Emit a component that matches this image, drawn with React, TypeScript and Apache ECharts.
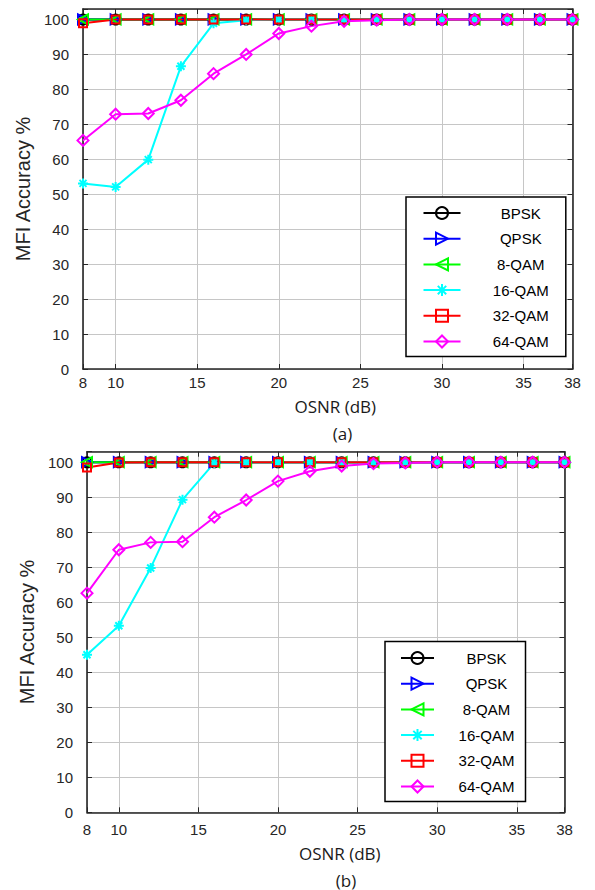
import React, { useEffect, useRef } from 'react';
import * as echarts from 'echarts';

// OSNR sweep (dB) shared by both panels
const osnr = [8, 10, 12, 14, 16, 18, 20, 22, 24, 26, 28, 30, 32, 34, 36, 38];
// 1 dB slots spanning the horizontal axis
const osnrSlots = [
  '8', '9', '10', '11', '12', '13', '14', '15', '16', '17', '18', '19', '20', '21', '22', '23',
  '24', '25', '26', '27', '28', '29', '30', '31', '32', '33', '34', '35', '36', '37', '38',
];
const xTicks = [8, 10, 15, 20, 25, 30, 35, 38];
const yTicks = [0, 10, 20, 30, 40, 50, 60, 70, 80, 90, 100];
const modulations = ['BPSK', 'QPSK', '8-QAM', '16-QAM', '32-QAM', '64-QAM'];

// Panel (a) accuracy, %
const bpskA = [100, 100, 100, 100, 100, 100, 100, 100, 100, 100, 100, 100, 100, 100, 100, 100];
const qpskA = [100, 100, 100, 100, 100, 100, 100, 100, 100, 100, 100, 100, 100, 100, 100, 100];
const qam8A = [100, 100, 100, 100, 100, 100, 100, 100, 100, 100, 100, 100, 100, 100, 100, 100];
const qam16A = [53.1, 52.1, 59.9, 86.6, 98.9, 99.8, 100, 100, 100, 100, 100, 100, 100, 100, 100, 100];
const qam32A = [98.9, 100, 100, 100, 100, 100, 100, 100, 100, 100, 100, 100, 100, 100, 100, 100];
const qam64A = [65.4, 72.9, 73.1, 76.9, 84.5, 90.0, 96.0, 98.1, 99.5, 99.8, 100, 100, 100, 100, 100, 100];

// Panel (b) accuracy, %
const bpskB = [100, 100, 100, 100, 100, 100, 100, 100, 100, 100, 100, 100, 100, 100, 100, 100];
const qpskB = [100, 100, 100, 100, 100, 100, 100, 100, 100, 100, 100, 100, 100, 100, 100, 100];
const qam8B = [100, 100, 100, 100, 100, 100, 100, 100, 100, 100, 100, 100, 100, 100, 100, 100];
const qam16B = [45.0, 53.3, 69.8, 89.3, 99.8, 100, 100, 100, 100, 100, 100, 100, 100, 100, 100, 100];
const qam32B = [98.5, 99.9, 100, 100, 100, 100, 100, 100, 100, 100, 100, 100, 100, 100, 100, 100];
const qam64B = [62.6, 75.0, 77.1, 77.3, 84.3, 89.2, 94.6, 97.4, 98.9, 99.6, 99.8, 100, 100, 100, 100, 100];

const panelA = [bpskA, qpskA, qam8A, qam16A, qam32A, qam64A];
const panelB = [bpskB, qpskB, qam8B, qam16B, qam32B, qam64B];

const DARK = '#262626';
const GRID = '#c6c6c6';
const SANS = '"Liberation Sans", Arial, sans-serif';
const CAPTION = '"Open Sans", sans-serif';

const ASTERISK = 'path://M5 0V10M0 5H10M1.5 1.5L8.5 8.5M1.5 8.5L8.5 1.5';

const markerStyle: Record<string, { symbol: string; size: number; rotate: number; color: string }> = {
  BPSK: { symbol: 'circle', size: 10, rotate: 0, color: '#000000' },
  QPSK: { symbol: 'triangle', size: 10, rotate: -90, color: '#0000ff' },
  '8-QAM': { symbol: 'triangle', size: 10, rotate: 90, color: '#00ff00' },
  '16-QAM': { symbol: ASTERISK, size: 10, rotate: 0, color: '#00ffff' },
  '32-QAM': { symbol: 'rect', size: 8, rotate: 0, color: '#ff0000' },
  '64-QAM': { symbol: 'diamond', size: 11, rotate: 0, color: '#ff00ff' },
};

// Ticks, labels and vertical grid lines only at the listed OSNR values
const onXTick = (_i: number, v: string) => xTicks.includes(Number(v));
const yLabel = (v: number) => (yTicks.includes(Math.round(v * 1000) / 1000) ? String(v) : '');

function buildSeries(values: number[][], axisIndex: number) {
  return modulations.map((name, k) => {
    const m = markerStyle[name];
    return {
      type: 'line',
      name,
      xAxisIndex: axisIndex,
      yAxisIndex: axisIndex,
      data: osnr.map((x, i) => [String(x), values[k][i]]),
      symbol: m.symbol,
      symbolSize: m.size,
      symbolRotate: m.rotate,
      showAllSymbol: true,
      lineStyle: { color: m.color, width: 2 },
      itemStyle: { color: 'rgba(0,0,0,0)', borderColor: m.color, borderWidth: 2 },
      emphasis: { disabled: true },
    };
  });
}

function xAxes(gridIndex: number, labelMargin: number, nameGap: number, namePadLeft: number) {
  const base = {
    type: 'category',
    gridIndex,
    data: osnrSlots,
    boundaryGap: false,
  };
  return [
    {
      ...base,
      position: 'bottom',
      axisLine: { show: true, onZero: false, lineStyle: { color: DARK, width: 1.6 } },
      axisTick: { show: true, inside: true, length: 5, interval: onXTick, lineStyle: { color: DARK } },
      axisLabel: {
        interval: onXTick,
        margin: labelMargin,
        fontSize: 15,
        fontFamily: SANS,
        color: DARK,
      },
      splitLine: { show: true, interval: onXTick, lineStyle: { color: GRID, width: 1 } },
      name: 'OSNR (dB)',
      nameLocation: 'middle',
      nameGap,
      nameTextStyle: { fontSize: 17, fontFamily: CAPTION, color: '#1a1a1a', padding: [0, 0, 0, namePadLeft] },
    },
    {
      ...base,
      position: 'top',
      axisLine: { show: true, onZero: false, lineStyle: { color: DARK, width: 1.6 } },
      axisTick: { show: true, inside: true, length: 5, interval: onXTick, lineStyle: { color: DARK } },
      axisLabel: { show: false },
      splitLine: { show: false },
    },
  ];
}

function yAxes(gridIndex: number, nameGap: number) {
  const base = {
    type: 'value',
    gridIndex,
    min: 0,
    max: 103,
    interval: 10,
  };
  return [
    {
      ...base,
      position: 'left',
      axisLine: { show: true, onZero: false, lineStyle: { color: DARK, width: 1.6 } },
      axisTick: { show: true, inside: true, length: 5, lineStyle: { color: DARK } },
      axisLabel: { formatter: yLabel, margin: 14, fontSize: 15, fontFamily: SANS, color: DARK },
      splitLine: { show: true, lineStyle: { color: GRID, width: 1 } },
      name: 'MFI Accuracy %',
      nameLocation: 'middle',
      nameGap,
      nameTextStyle: { fontSize: 20, fontFamily: SANS, color: DARK },
    },
    {
      ...base,
      position: 'right',
      axisLine: { show: true, onZero: false, lineStyle: { color: DARK, width: 1.6 } },
      axisTick: { show: true, inside: true, length: 5, lineStyle: { color: DARK } },
      axisLabel: { show: false },
      splitLine: { show: false },
    },
  ];
}

function legendBox(left: number, top: number, padding: number[], itemWidth: number, textPadLeft: number) {
  return {
    orient: 'vertical',
    left,
    top,
    padding,
    itemWidth,
    itemHeight: 15,
    itemGap: 10.7,
    selectedMode: false,
    backgroundColor: '#ffffff',
    borderColor: '#000000',
    borderWidth: 1.5,
    data: modulations,
    formatter: (name: string) => `{n|${name}}`,
    textStyle: {
      padding: [0, 0, 0, textPadLeft],
      rich: {
        n: { width: 64, align: 'center', fontSize: 15, lineHeight: 15, fontFamily: SANS, color: '#000000' },
      },
    },
  };
}

export default function App() {
  const ref = useRef<HTMLDivElement>(null);

  useEffect(() => {
    document.body.style.margin = '0';
    if (!ref.current) return;
    const chart = echarts.init(ref.current, null, { renderer: 'svg' });
    chart.setOption({
      animation: false,
      backgroundColor: '#ffffff',
      grid: [
        { left: 83, right: 22.5, top: 9, height: 360 },
        { left: 87, right: 30.5, top: 451.7, height: 360.6 },
      ],
      xAxis: [...xAxes(0, 6, 28.5, 15), ...xAxes(1, 9.5, 32.5, 28)],
      yAxis: [...yAxes(0, 49), ...yAxes(1, 49.5)],
      legend: [
        legendBox(406, 197, [8.5, 13, 7.5, 16.5], 37, 23.3),
        legendBox(385, 641.5, [9, 7, 7.5, 15], 33, 15.5),
      ],
      graphic: [
        {
          type: 'text',
          x: 342.5,
          y: 433.3,
          style: { text: '(a)', align: 'center', verticalAlign: 'middle', fontSize: 17, fontFamily: CAPTION, fill: '#1a1a1a' },
        },
        {
          type: 'text',
          x: 346,
          y: 880,
          style: { text: '(b)', align: 'center', verticalAlign: 'middle', fontSize: 17, fontFamily: CAPTION, fill: '#1a1a1a' },
        },
      ],
      series: [...buildSeries(panelA, 0), ...buildSeries(panelB, 2)],
    });
    return () => chart.dispose();
  }, []);

  return <div ref={ref} style={{ position: 'absolute', left: 0, top: 0, width: 595, height: 890 }} />;
}
